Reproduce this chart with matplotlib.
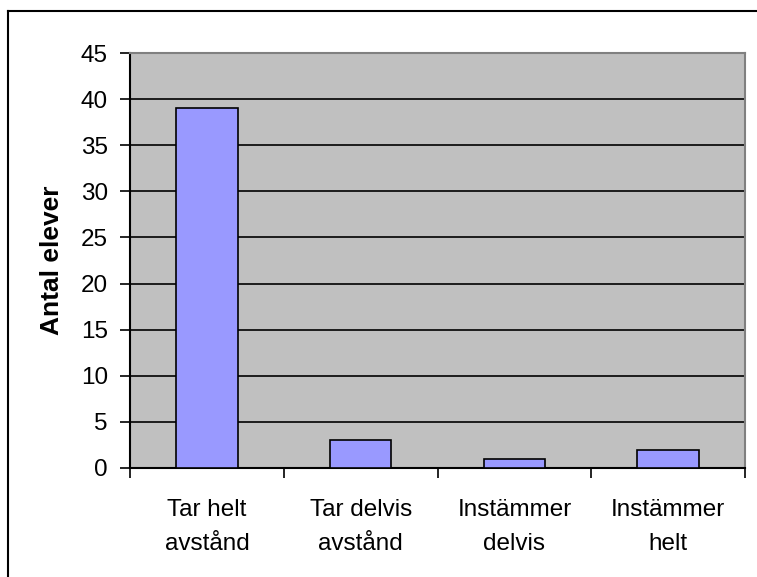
import matplotlib
matplotlib.use("Agg")
import matplotlib.pyplot as plt
from matplotlib.lines import Line2D

categories = ["Tar helt\navstånd", "Tar delvis\navstånd", "Instämmer\ndelvis", "Instämmer\nhelt"]
values = [39, 3, 1, 2]
yticks = [0, 5, 10, 15, 20, 25, 30, 35, 40, 45]
ylabel = "Antal elever"

plt.rcParams['font.family'] = ['Liberation Sans', 'DejaVu Sans']

W, H = 757, 577
fig = plt.figure(figsize=(W / 100, H / 100), dpi=100)
ax = fig.add_axes([130 / W, (H - 468) / H, (745 - 130) / W, (468 - 53) / H])
ax.set_facecolor("#C0C0C0")

x = list(range(len(categories)))
ax.set_axisbelow(True)
ax.yaxis.grid(True, color="black", linewidth=1.2)
ax.bar(x, values, width=0.4, color="#9999FF", edgecolor="black", linewidth=1.2, zorder=3)

ax.set_xlim(-0.5, len(categories) - 0.5)
ax.set_ylim(0, 45)
ax.set_yticks(yticks)
ax.set_yticklabels([str(v) for v in yticks], fontsize=17.5)
ax.set_xticks([i - 0.5 for i in range(len(categories) + 1)], minor=False)
ax.set_xticklabels([])
ax.set_xticks(x, minor=True)
ax.set_xticklabels(categories, minor=True, fontsize=17.5, linespacing=1.75)
ax.tick_params(axis="x", which="minor", length=0, pad=22)
ax.tick_params(axis="x", which="major", length=7, width=1.2, direction="out")
ax.tick_params(axis="y", length=7, width=1.2, direction="out", pad=9)

for s in ["left", "bottom"]:
    ax.spines[s].set_color("black")
    ax.spines[s].set_linewidth(1.5)
for s in ["top", "right"]:
    ax.spines[s].set_color("#808080")
    ax.spines[s].set_linewidth(1.5)

ax.set_ylabel(ylabel, fontsize=19, fontweight="bold", labelpad=12)

# outer frame (left and top edges visible)
fig.add_artist(Line2D([8 / W, 8 / W], [0, 1 - 11 / H], transform=fig.transFigure, color="black", linewidth=1.5))
fig.add_artist(Line2D([8 / W, 1], [1 - 11 / H, 1 - 11 / H], transform=fig.transFigure, color="black", linewidth=1.5))

fig.savefig("out.png", dpi=100)
